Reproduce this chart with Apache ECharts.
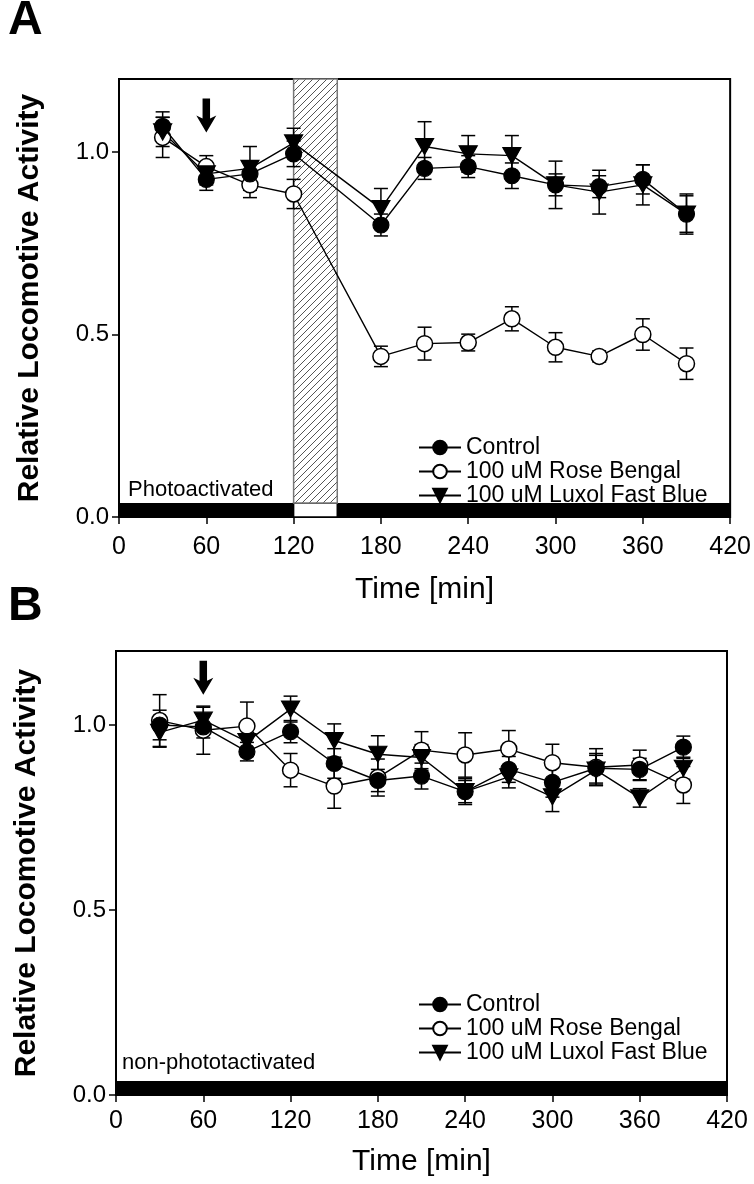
<!DOCTYPE html>
<html><head><meta charset="utf-8">
<script src="https://cdn.jsdelivr.net/npm/echarts@6/dist/echarts.min.js"></script>
<style>html,body{margin:0;padding:0;background:#fff}#c{width:754px;height:1184px}</style>
</head><body><div id="c"></div>
<script>
// ---- data ----
const xTicks = [0, 60, 120, 180, 240, 300, 360, 420];
const yTicks = [0, 0.5, 1.0];
const seriesNames = ['Control', '100 uM Rose Bengal', '100 uM Luxol Fast Blue'];

// Panel A (photoactivated) – no sample at 150 min (light exposure)
const timesA = [30, 60, 90, 120, 180, 210, 240, 270, 300, 330, 360, 390];
const ctrlA = [1.07, 0.925, 0.94, 0.995, 0.80, 0.955, 0.96, 0.935, 0.91, 0.905, 0.925, 0.83];
const ctrlAErr = [0.04, 0.03, 0.035, 0.035, 0.03, 0.03, 0.03, 0.035, 0.03, 0.03, 0.04, 0.05];
const rbA = [1.04, 0.96, 0.91, 0.885, 0.44, 0.475, 0.478, 0.543, 0.465, 0.44, 0.50, 0.42];
const rbAErr = [0.055, 0.03, 0.035, 0.04, 0.028, 0.045, 0.023, 0.033, 0.04, 0.015, 0.043, 0.043];
const lfbA = [1.055, 0.94, 0.955, 1.025, 0.845, 1.015, 0.995, 0.99, 0.91, 0.89, 0.91, 0.83];
const lfbAErr = [0.04, 0.03, 0.06, 0.04, 0.055, 0.068, 0.05, 0.055, 0.065, 0.06, 0.055, 0.055];

// Panel B (non-photoactivated)
const timesB = [30, 60, 90, 120, 150, 180, 210, 240, 270, 300, 330, 360, 390];
const ctrlB = [1.0, 0.995, 0.928, 0.982, 0.896, 0.85, 0.862, 0.82, 0.88, 0.845, 0.883, 0.88, 0.94];
const ctrlBErr = [0.04, 0.03, 0.025, 0.03, 0.04, 0.03, 0.035, 0.03, 0.035, 0.04, 0.04, 0.03, 0.03];
const rbB = [1.012, 0.986, 0.997, 0.878, 0.835, 0.858, 0.932, 0.919, 0.935, 0.898, 0.886, 0.892, 0.838];
const rbBErr = [0.07, 0.065, 0.065, 0.045, 0.06, 0.05, 0.05, 0.06, 0.05, 0.05, 0.05, 0.04, 0.05];
const lfbB = [0.98, 1.013, 0.955, 1.043, 0.958, 0.921, 0.912, 0.82, 0.86, 0.806, 0.878, 0.803, 0.883];
const lfbBErr = [0.04, 0.035, 0.04, 0.035, 0.045, 0.05, 0.035, 0.035, 0.03, 0.04, 0.04, 0.025, 0.03];

// light/dark periods (min)
const lightA = [120, 150];         // photoactivation window
const darkA = [[0, 120], [150, 420]];
const darkB = [[0, 420]];
const treatmentTime = 60;
const arrowLevelA = 1.10;
const arrowLevelB = 1.128;
// ---------------

const FONT = 'Liberation Sans, Arial, sans-serif';
const hatch = document.createElement('canvas');
hatch.width = 7; hatch.height = 7;
(function(){
  const g = hatch.getContext('2d');
  g.fillStyle = '#fff'; g.fillRect(0,0,7,7);
  g.strokeStyle = '#555'; g.lineWidth = 1;
  g.beginPath();
  g.moveTo(-1, 8); g.lineTo(8, -1);
  g.moveTo(-1, 1); g.lineTo(1, -1);
  g.moveTo(6, 8); g.lineTo(8, 6);
  g.stroke();
})();

function pairs(t, v) { return t.map((x, i) => [x, v[i]]); }
function errData(t, v, e) { return t.map((x, i) => [x, v[i] - e[i], v[i] + e[i]]); }

function errSeries(idx, t, v, e) {
  return {
    type: 'custom', xAxisIndex: idx, yAxisIndex: idx, z: 3, silent: true,
    data: errData(t, v, e),
    renderItem: function(params, api) {
      const x = api.value(0);
      const lo = api.coord([x, api.value(1)]);
      const hi = api.coord([x, api.value(2)]);
      const w = 7;
      const st = { stroke: '#000', lineWidth: 1.5 };
      return { type: 'group', children: [
        { type: 'line', shape: { x1: lo[0], y1: lo[1], x2: hi[0], y2: hi[1] }, style: st },
        { type: 'line', shape: { x1: hi[0]-w, y1: hi[1], x2: hi[0]+w, y2: hi[1] }, style: st },
        { type: 'line', shape: { x1: lo[0]-w, y1: lo[1], x2: lo[0]+w, y2: lo[1] }, style: st }
      ]};
    }
  };
}

const TRI = 'path://M0,0 L12,0 L6,10.5 Z';
function lineSeries(idx, name, t, v, arrowY) {
  const s = {
    type: 'line', name: name, xAxisIndex: idx, yAxisIndex: idx, z: 5,
    data: pairs(t, v), symbolSize: 16,
    lineStyle: { color: '#000', width: 1.4 },
    itemStyle: { color: '#000', borderColor: '#000', borderWidth: 1.2 },
    emphasis: { disabled: true }, animation: false
  };
  if (name === seriesNames[1]) {
    s.symbol = 'circle';
    s.itemStyle = { color: '#fff', borderColor: '#000', borderWidth: 1.5 };
  } else if (name === seriesNames[2]) {
    s.symbol = TRI; s.symbolSize = [18, 16]; s.symbolKeepAspect = false;
  } else {
    s.symbol = 'circle';
    s.z = 6;
  }
  if (arrowY !== undefined) {
    s.markPoint = {
      symbol: 'path://M5,0 L11,0 L11,20 L16,17 L8,34 L0,17 L5,20 Z',
      symbolSize: [20, 34], symbolKeepAspect: false,
      itemStyle: { color: '#000' }, label: { show: false }, silent: true,
      data: [{ coord: [treatmentTime, arrowY] }]
    };
  }
  return s;
}

function bandSeries(idx, dark, light) {
  const segs = dark.map(d => [d[0], d[1], 0]);
  if (light) segs.push([light[0], light[1], 1]);
  return {
    type: 'custom', xAxisIndex: idx, yAxisIndex: idx, z: 2, silent: true,
    data: segs,
    renderItem: function(params, api) {
      const a = api.coord([api.value(0), 0]);
      const b = api.coord([api.value(1), 0]);
      const h = 14;
      const isLight = api.value(2) === 1;
      const children = [{
        type: 'rect', shape: { x: a[0], y: a[1] - h, width: b[0] - a[0], height: h },
        style: isLight ? { fill: '#fff', stroke: '#000', lineWidth: 1.5 } : { fill: '#000' }
      }];
      if (isLight) {
        const top = api.coord([api.value(0), 1.2]);
        children.push({
          type: 'rect', shape: { x: a[0], y: top[1], width: b[0] - a[0], height: a[1] - h - top[1] },
          style: { fill: { image: hatch, repeat: 'repeat' }, stroke: '#777', lineWidth: 1.5 }
        });
      }
      return { type: 'group', children: children };
    }
  };
}

function xAxis(idx, gap) {
  return {
    type: 'value', gridIndex: idx, min: 0, max: 420, interval: 60,
    name: 'Time [min]', nameLocation: 'middle', nameGap: gap,
    nameTextStyle: { fontFamily: FONT, fontSize: 30, color: '#000' },
    axisLine: { show: true, lineStyle: { color: '#000', width: 2 } },
    axisTick: { show: true, inside: false, length: 7, lineStyle: { color: '#000', width: 1.5 } },
    axisLabel: { fontFamily: FONT, fontSize: 25, color: '#000', margin: idx === 0 ? 18 : 14,
                 customValues: xTicks },
    splitLine: { show: false }
  };
}
function yAxis(idx) {
  return {
    type: 'value', gridIndex: idx, min: 0, max: 1.2,
    name: 'Relative Locomotive Activity', nameLocation: 'middle', nameGap: 74,
    nameTextStyle: { fontFamily: FONT, fontSize: 30, fontWeight: 'bold', color: '#000' },
    axisLine: { show: true, lineStyle: { color: '#000', width: 2 } },
    axisTick: { show: true, inside: false, length: 7, customValues: yTicks,
                lineStyle: { color: '#000', width: 1.5 } },
    axisLabel: { fontFamily: FONT, fontSize: 24, color: '#000', margin: 10,
                 customValues: yTicks, formatter: v => v.toFixed(1) },
    splitLine: { show: false }
  };
}

function legend(top) {
  return {
    orient: 'vertical', left: 413, top: top, itemGap: 1,
    itemWidth: 42, itemHeight: 17,
    data: seriesNames,
    textStyle: { fontFamily: FONT, fontSize: 23, lineHeight: 22, color: '#000' },
    selectedMode: false
  };
}

const chart = echarts.init(document.getElementById('c'), null, { renderer: 'canvas' });
chart.setOption({
  animation: false,
  backgroundColor: '#fff',
  grid: [
    { left: 119, top: 79, width: 613, height: 438, show: true, borderColor: '#000', borderWidth: 2, backgroundColor: 'transparent' },
    { left: 116, top: 651, width: 611, height: 444, show: true, borderColor: '#000', borderWidth: 2, backgroundColor: 'transparent' }
  ],
  xAxis: [xAxis(0, 58), xAxis(1, 52)],
  yAxis: [yAxis(0), yAxis(1)],
  legend: [legend(431), legend(988)],
  graphic: [
    { type: 'text', left: 8, top: -3, style: { text: 'A', font: 'bold 48px ' + FONT, fill: '#000' } },
    { type: 'text', left: 8, top: 583, style: { text: 'B', font: 'bold 48px ' + FONT, fill: '#000' } },
    { type: 'text', left: 128, top: 479, style: { text: 'Photoactivated', font: '22px ' + FONT, fill: '#000' } },
    { type: 'text', left: 122, top: 1052, style: { text: 'non-phototactivated', font: '22px ' + FONT, fill: '#000' } }
  ],
  series: [
    bandSeries(0, darkA, lightA),
    bandSeries(1, darkB, null),
    errSeries(0, timesA, rbA, rbAErr),
    errSeries(0, timesA, lfbA, lfbAErr),
    errSeries(0, timesA, ctrlA, ctrlAErr),
    errSeries(1, timesB, rbB, rbBErr),
    errSeries(1, timesB, lfbB, lfbBErr),
    errSeries(1, timesB, ctrlB, ctrlBErr),
    lineSeries(0, seriesNames[1], timesA, rbA),
    lineSeries(0, seriesNames[2], timesA, lfbA),
    lineSeries(0, seriesNames[0], timesA, ctrlA, arrowLevelA),
    lineSeries(1, seriesNames[1], timesB, rbB),
    lineSeries(1, seriesNames[2], timesB, lfbB),
    lineSeries(1, seriesNames[0], timesB, ctrlB, arrowLevelB)
  ]
});
</script></body></html>
